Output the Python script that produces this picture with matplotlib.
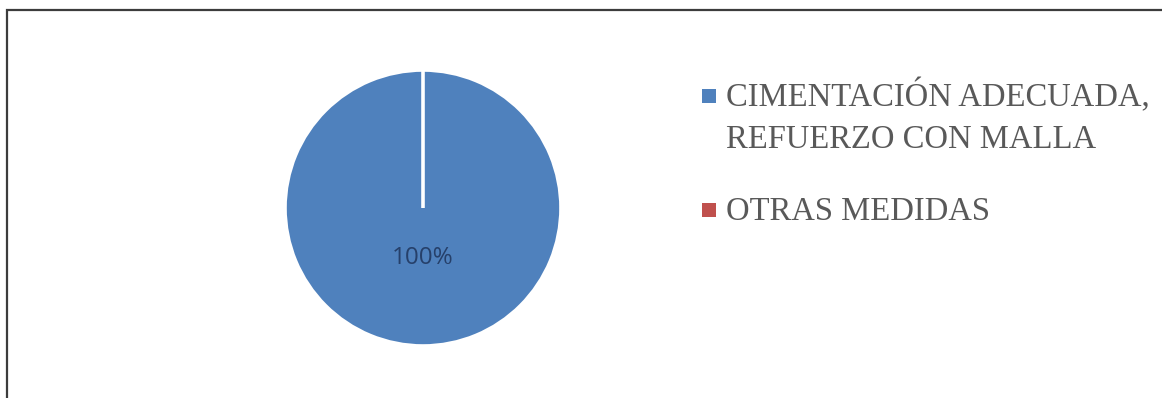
#!/usr/bin/env python3
"""Pie chart: reinforcement measures (100% vs 0%)."""

import matplotlib
matplotlib.use("Agg")
import matplotlib.pyplot as plt
from matplotlib.patches import Rectangle

# data
categories = ["CIMENTACIÓN ADECUADA,\nREFUERZO CON MALLA", "OTRAS MEDIDAS"]
shares = [100, 0]
colors = ["#4f81bd", "#c0504d"]

W, H = 1162, 398
DPI = 100


def fx(px):
    return px / W


def fy(py):
    # pixel rows are counted from the top
    return 1 - py / H


fig = plt.figure(figsize=(W / DPI, H / DPI), dpi=DPI)
fig.patch.set_facecolor("white")

# frame: only the top and left edges fall inside the canvas
fig.add_artist(Rectangle((fx(7), -0.2), 1.5, fy(10) + 0.2,
                         transform=fig.transFigure, fill=False,
                         edgecolor="#3c3c3c", linewidth=1.6))

# pie axes, centred at (423, 208) px with radius 138 px
cx, cy, r = 423, 208, 138
ax = fig.add_axes([fx(cx - r), fy(cy + r), 2 * r / W, 2 * r / H])
wedges, texts, autotexts = ax.pie(
    shares, colors=colors, startangle=90, counterclock=False,
    autopct=lambda p: f"{p:.0f}%" if p > 0 else "",
    pctdistance=0.36,
    wedgeprops=dict(edgecolor="white", linewidth=2.6),
    textprops=dict(color="#26406a", fontsize=17.5, family="Open Sans"),
)
ax.set_xlim(-1, 1)
ax.set_ylim(-1, 1)
ax.set_aspect("equal")

# legend, drawn by hand so the swatch sits on the first text line
legend_rows = [108, 222]  # baseline of each entry's first line, px
line_px = 42              # distance between wrapped lines, px
for label, col, base in zip(categories, colors, legend_rows):
    sq = 14
    fig.add_artist(Rectangle((fx(702), fy(base - 5)), sq / W, sq / H,
                             transform=fig.transFigure, facecolor=col,
                             edgecolor="none"))
    # va="baseline" anchors the last line, so step down past the wraps
    last = base - 2 + label.count("\n") * line_px
    fig.text(fx(726), fy(last), label, ha="left", va="baseline",
             family="Liberation Serif", fontsize=23.5, color="#595959",
             linespacing=1.49)

fig.savefig("out.png", dpi=DPI)
